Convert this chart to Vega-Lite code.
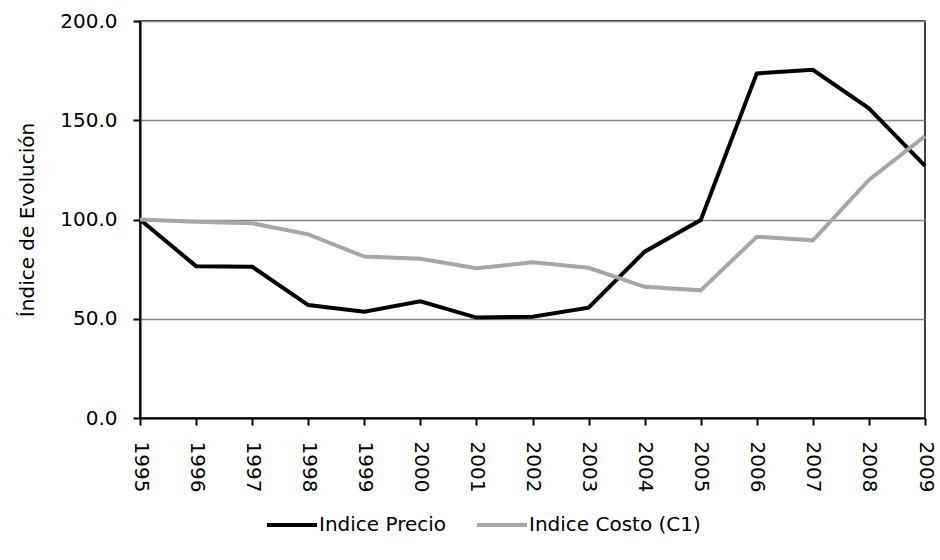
{
  "$schema": "https://vega.github.io/schema/vega-lite/v6.json",
  "autosize": {"type": "none"},
  "width": 785,
  "height": 397,
  "padding": {"left": 140, "top": 21, "right": 15, "bottom": 142},
  "background": "white",
  "config": {
    "font": "DejaVu Sans",
    "view": {"stroke": "#000000", "strokeWidth": 1.5},
    "axis": {
      "labelFont": "DejaVu Sans",
      "titleFont": "DejaVu Sans",
      "labelFontSize": 20,
      "titleFontSize": 20,
      "titleFontWeight": "normal",
      "labelColor": "#000000",
      "titleColor": "#000000",
      "domainColor": "#000000",
      "domainWidth": 2,
      "tickColor": "#000000",
      "tickWidth": 2,
      "tickSize": 7
    },
    "legend": {
      "labelFont": "DejaVu Sans",
      "labelFontSize": 20,
      "labelColor": "#000000"
    }
  },
  "data": {
    "values": [
      {"year": "1995", "series": "Indice Precio", "value": 100.0},
      {"year": "1996", "series": "Indice Precio", "value": 76.5},
      {"year": "1997", "series": "Indice Precio", "value": 76.2},
      {"year": "1998", "series": "Indice Precio", "value": 56.9},
      {"year": "1999", "series": "Indice Precio", "value": 53.5},
      {"year": "2000", "series": "Indice Precio", "value": 58.8},
      {"year": "2001", "series": "Indice Precio", "value": 50.6},
      {"year": "2002", "series": "Indice Precio", "value": 51.0},
      {"year": "2003", "series": "Indice Precio", "value": 55.6},
      {"year": "2004", "series": "Indice Precio", "value": 83.8},
      {"year": "2005", "series": "Indice Precio", "value": 99.7},
      {"year": "2006", "series": "Indice Precio", "value": 173.6},
      {"year": "2007", "series": "Indice Precio", "value": 175.4},
      {"year": "2008", "series": "Indice Precio", "value": 156.0},
      {"year": "2009", "series": "Indice Precio", "value": 127.0},
      {"year": "1995", "series": "Indice Costo (C1)", "value": 100.0},
      {"year": "1996", "series": "Indice Costo (C1)", "value": 98.9},
      {"year": "1997", "series": "Indice Costo (C1)", "value": 98.1},
      {"year": "1998", "series": "Indice Costo (C1)", "value": 92.5},
      {"year": "1999", "series": "Indice Costo (C1)", "value": 81.3},
      {"year": "2000", "series": "Indice Costo (C1)", "value": 80.2},
      {"year": "2001", "series": "Indice Costo (C1)", "value": 75.4},
      {"year": "2002", "series": "Indice Costo (C1)", "value": 78.4},
      {"year": "2003", "series": "Indice Costo (C1)", "value": 75.7},
      {"year": "2004", "series": "Indice Costo (C1)", "value": 66.1},
      {"year": "2005", "series": "Indice Costo (C1)", "value": 64.3},
      {"year": "2006", "series": "Indice Costo (C1)", "value": 91.3},
      {"year": "2007", "series": "Indice Costo (C1)", "value": 89.5},
      {"year": "2008", "series": "Indice Costo (C1)", "value": 119.9},
      {"year": "2009", "series": "Indice Costo (C1)", "value": 142.0}
    ]
  },
  "mark": {"type": "line", "strokeWidth": 4, "strokeJoin": "miter", "strokeCap": "butt"},
  "encoding": {
    "x": {
      "field": "year",
      "type": "ordinal",
      "scale": {"type": "point", "padding": 0},
      "axis": {
        "title": null,
        "labelAngle": 90,
        "labelAlign": "left",
        "labelBaseline": "middle",
        "labelPadding": 16,
        "grid": false
      }
    },
    "y": {
      "field": "value",
      "type": "quantitative",
      "scale": {"domain": [0, 200], "nice": false},
      "axis": {
        "title": "Índice de Evolución",
        "format": ".1f",
        "values": [0, 50, 100, 150, 200],
        "labelPadding": 16,
        "titlePadding": 22,
        "grid": true,
        "gridColor": "#868686",
        "gridWidth": 1.5
      }
    },
    "color": {
      "field": "series",
      "type": "nominal",
      "sort": ["Indice Precio", "Indice Costo (C1)"],
      "scale": {"domain": ["Indice Precio", "Indice Costo (C1)"], "range": ["#000000", "#a6a6a6"]},
      "legend": {
        "title": null,
        "orient": "none",
        "direction": "horizontal",
        "legendX": 125,
        "legendY": 477,
        "padding": 0,
        "symbolType": "stroke",
        "symbolSize": 2500,
        "symbolStrokeWidth": 4,
        "labelOffset": 0,
        "labelLimit": 400,
        "columnPadding": 22
      }
    }
  }
}
